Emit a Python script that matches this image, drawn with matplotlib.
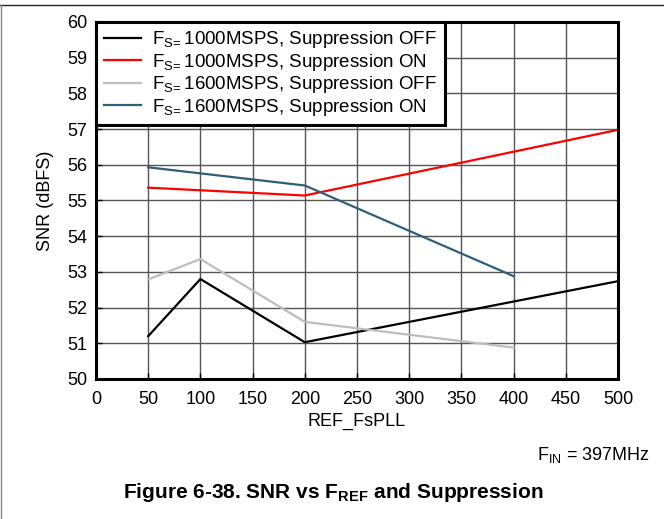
import matplotlib
matplotlib.use('Agg')
import matplotlib.pyplot as plt
from matplotlib.lines import Line2D

plt.rcParams['font.family'] = ['Liberation Sans', 'DejaVu Sans']
plt.rcParams['mathtext.fontset'] = 'custom'
plt.rcParams['mathtext.rm'] = 'Liberation Sans'
plt.rcParams['mathtext.bf'] = 'Liberation Sans:bold'

# data
x_1000 = [50, 100, 200, 500]
off_1000 = [51.2, 52.8, 51.03, 52.74]
x_1000_on = [50, 200, 500]
on_1000 = [55.36, 55.14, 56.98]
x_1600 = [50, 100, 200, 400]
off_1600 = [52.79, 53.36, 51.6, 50.88]
x_1600_on = [50, 200, 400]
on_1600 = [55.93, 55.42, 52.88]

labels = [r'F$_{\mathrm{S}\!=}$1000MSPS, Suppression OFF',
          r'F$_{\mathrm{S}\!=}$1000MSPS, Suppression ON',
          r'F$_{\mathrm{S}\!=}$1600MSPS, Suppression OFF',
          r'F$_{\mathrm{S}\!=}$1600MSPS, Suppression ON']

fig = plt.figure(figsize=(6.64, 5.19), dpi=100)
ax = fig.add_axes([96 / 664, 1 - 379 / 519, 522 / 664, 357 / 519])

ax.plot(x_1000, off_1000, color='black', lw=1.6, label=labels[0])
ax.plot(x_1000_on, on_1000, color='#ff0000', lw=1.6, label=labels[1])
ax.plot(x_1600, off_1600, color='#bdbdbd', lw=1.6, label=labels[2])
ax.plot(x_1600_on, on_1600, color='#2f5f78', lw=1.6, label=labels[3])

ax.set_xlim(0, 500)
ax.set_ylim(50, 60)
ax.set_xticks(range(0, 501, 50))
ax.set_yticks(range(50, 61))
ax.grid(True, color='#555555', lw=1.0)
ax.set_axisbelow(True)
ax.tick_params(direction='in', length=4, labelsize=13, width=1)
ax.tick_params(axis='x', pad=9)
ax.tick_params(axis='y', pad=6.5)
for s in ax.spines.values():
    s.set_linewidth(2.2)

ax.set_xlabel('REF_FsPLL', fontsize=13, labelpad=3)
ax.set_ylabel('SNR (dBFS)', fontsize=13, labelpad=9)

leg = ax.legend(loc='upper left', bbox_to_anchor=(0, 1), borderaxespad=0,
                fancybox=False, framealpha=1, edgecolor='black', fontsize=13.5,
                handlelength=2.0, handletextpad=0.6, labelspacing=0.08,
                borderpad=0.4)
leg.get_frame().set_linewidth(2.2)

fig.text(650 / 664, 1 - 455 / 519, r'F$_{\mathrm{IN}}$ = 397MHz', fontsize=13,
         ha='right', va='center')
fig.text(333 / 664, 1 - 493 / 519, r'Figure 6-38. SNR vs F$_{\mathbf{REF}}$ and Suppression',
         fontsize=15, fontweight='bold', ha='center', va='center')

# document frame lines
fig.add_artist(Line2D([0, 1], [1 - 5 / 519, 1 - 5 / 519], transform=fig.transFigure,
                      color='#222222', lw=1))
fig.add_artist(Line2D([1 / 664, 1 / 664], [0, 1 - 5 / 519], transform=fig.transFigure,
                      color='#888888', lw=1))

fig.savefig('out.png', dpi=100)
